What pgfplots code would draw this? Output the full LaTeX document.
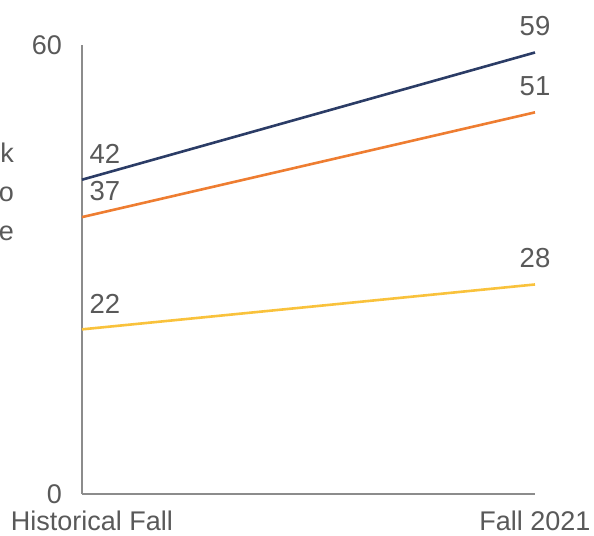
\documentclass[border=0pt]{standalone}
\usepackage{pgfplots}
\pgfplotsset{compat=1.18}
\usepackage{fontspec}
\setmainfont{Liberation Sans}
\definecolor{txt}{HTML}{595959}
\definecolor{axl}{HTML}{8C8C8C}
\definecolor{navy}{HTML}{2B3C66}
\definecolor{orng}{HTML}{EE7D31}
\definecolor{yell}{HTML}{F9C23C}
\begin{document}
\fontsize{27bp}{32bp}\selectfont
\begin{tikzpicture}
\path[use as bounding box] (0,0) rectangle (594bp,536bp);
\begin{axis}[
  at={(82bp,42bp)}, anchor=south west,
  scale only axis, width=453bp, height=449bp,
  xmin=0, xmax=1, ymin=0, ymax=60,
  axis x line=bottom, axis y line=left,
  axis line style={draw=axl, line width=1.4bp, -},
  xtick={0,1}, xticklabels={\hspace*{20bp}Historical Fall, Fall 2021},
  ytick={0,60},
  major tick length=0pt,
  tick label style={text=txt, font=\fontsize{27bp}{32bp}\selectfont},
  /pgf/number format/assume math mode=true,
  yticklabel style={xshift=-11bp},
  xticklabel style={inner sep=0pt, yshift=-17bp},
  every axis plot/.append style={line width=2.6bp, mark=none},
  visualization depends on={value \coordindex \as \idx},
  nodes near coords,
  every node near coord/.append style={text=txt, anchor=south, yshift=6bp, xshift={(1-\idx)*23bp}, font=\fontsize{27.5bp}{32bp}\selectfont},
  clip=false,
]
\addplot[color=navy] coordinates {(0,42) (1,59)};
\addplot[color=orng] coordinates {(0,37) (1,51)};
\addplot[color=yell] coordinates {(0,22) (1,28)};
\end{axis}
\node[anchor=base east, inner sep=0, text=txt] at (14bp,373bp) {k};
\node[anchor=base east, inner sep=0, text=txt] at (14bp,334bp) {o};
\node[anchor=base east, inner sep=0, text=txt] at (14bp,295bp) {e};
\end{tikzpicture}
\end{document}
